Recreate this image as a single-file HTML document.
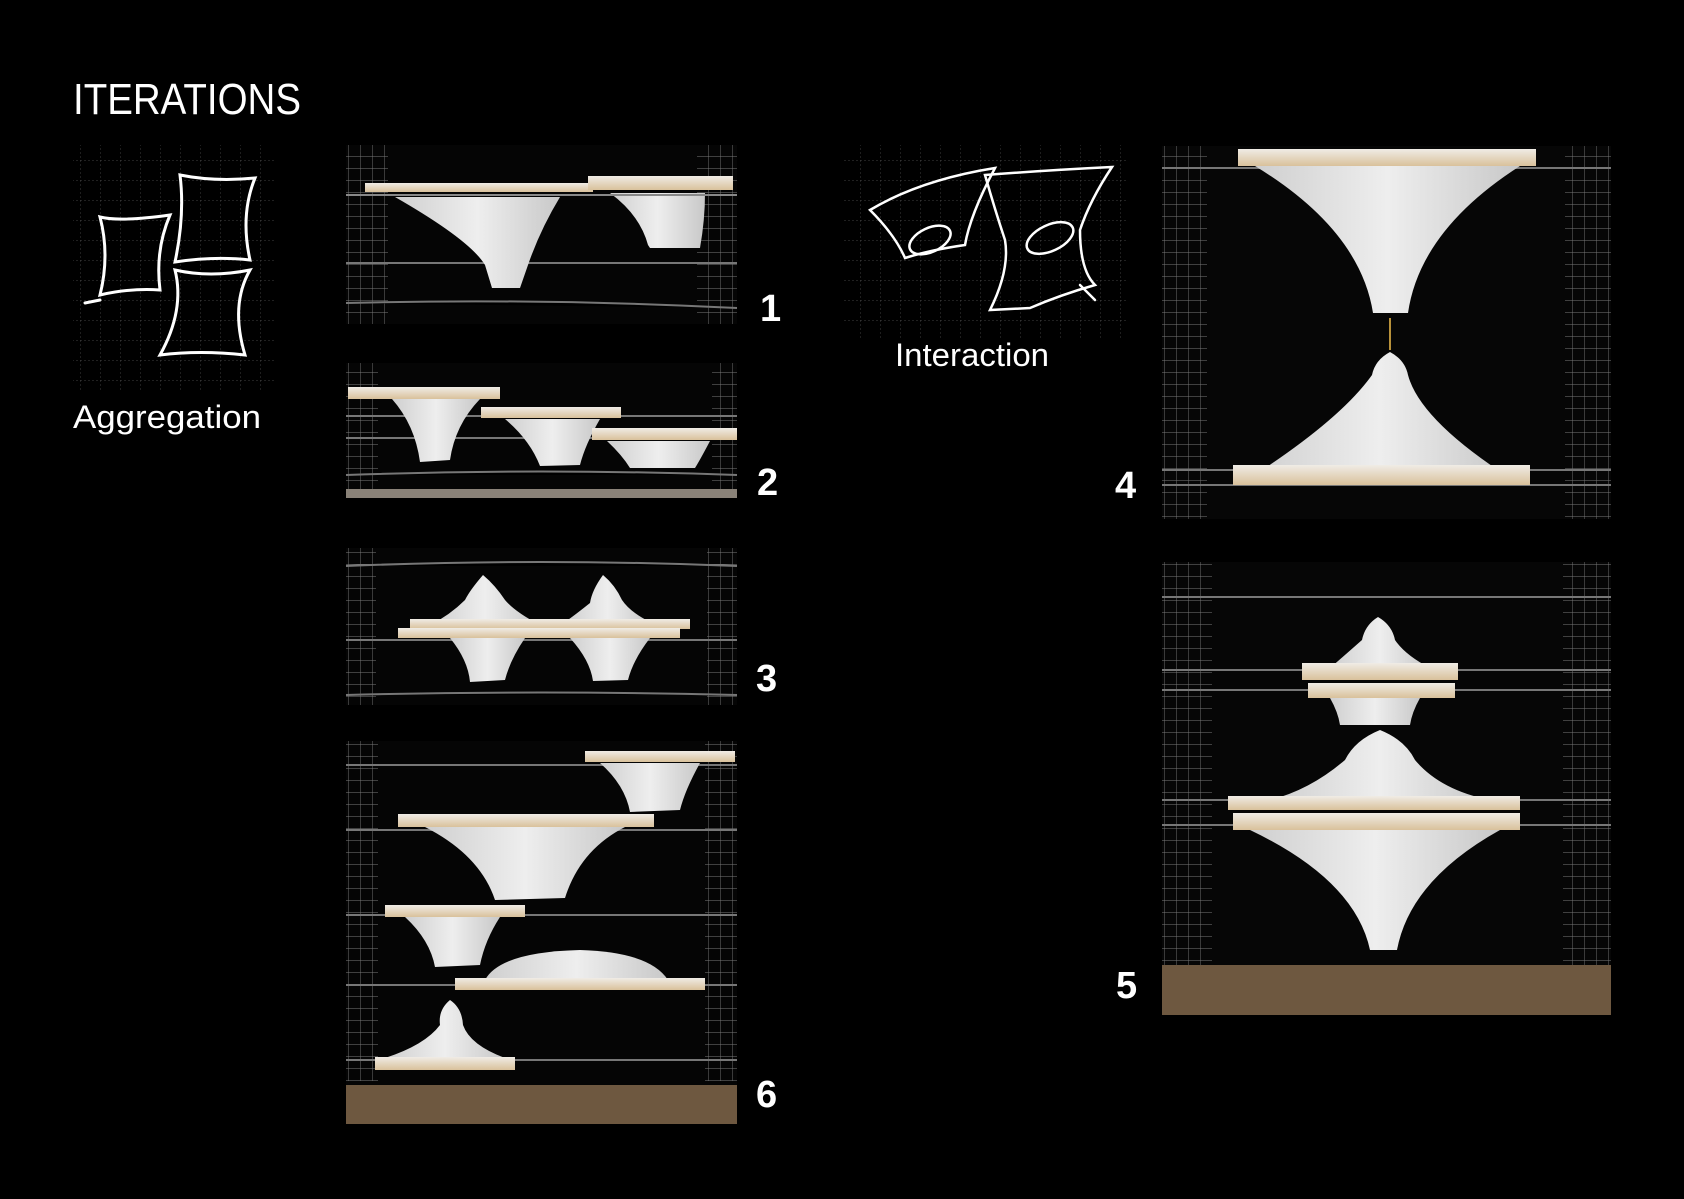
<!DOCTYPE html>
<html><head><meta charset="utf-8"><style>
html,body{margin:0;padding:0;background:#000;width:1684px;height:1199px;overflow:hidden}
svg{display:block}
text{font-family:"Liberation Sans",sans-serif;fill:#fff}
</style></head><body>
<svg width="1684" height="1199" viewBox="0 0 1684 1199" xmlns="http://www.w3.org/2000/svg">
<defs>
<pattern id="g" width="12" height="12" patternUnits="userSpaceOnUse">
<path d="M0 0H12M0 0V12" stroke="#c8c8c8" stroke-width="0.9" fill="none"/>
</pattern>
<pattern id="sg" width="20" height="20" patternUnits="userSpaceOnUse">
<path d="M0 0H20M0 0V20" stroke="#555" stroke-width="0.7" stroke-dasharray="2 2" fill="none"/>
</pattern>
<linearGradient id="w" x1="0" y1="0" x2="0" y2="1"><stop offset="0" stop-color="#f0ece6"/><stop offset="1" stop-color="#d9c19b"/></linearGradient>
<linearGradient id="c" x1="0" y1="0" x2="1" y2="0"><stop offset="0" stop-color="#cfcfcf"/><stop offset=".5" stop-color="#eeeeee"/><stop offset="1" stop-color="#c8c8c8"/></linearGradient>
</defs>

<text x="73" y="114" font-size="44" font-weight="300" textLength="228" lengthAdjust="spacingAndGlyphs">ITERATIONS</text>

<!-- aggregation sketch -->
<rect x="73" y="145" width="201" height="247" fill="url(#sg)"/>
<g stroke="#fff" stroke-width="3" fill="none" stroke-linecap="round">
<path d="M100 217 Q120 222 170 215 Q155 250 160 290 Q130 288 100 295 Q110 255 100 217Z"/>
<path d="M180 175 Q215 182 255 178 Q240 215 250 260 Q215 256 175 262 Q185 215 180 175Z"/>
<path d="M175 270 Q210 278 250 270 Q230 305 245 355 Q200 350 160 355 Q185 310 175 270Z"/>
<path d="M85 303 L100 300"/>
</g>
<text x="73" y="428" font-size="32" textLength="188" lengthAdjust="spacingAndGlyphs">Aggregation</text>

<!-- interaction sketch -->
<rect x="843" y="145" width="283" height="193" fill="url(#sg)"/>
<g stroke="#fff" stroke-width="2.5" fill="none" stroke-linecap="round">
<path d="M870 210 Q920 180 995 168 Q970 215 965 245 Q930 250 905 258 Q895 235 870 210Z"/>
<ellipse cx="930" cy="240" rx="22" ry="12" transform="rotate(-25 930 240)"/>
<path d="M985 175 Q1050 170 1112 167 Q1090 200 1080 230 Q1080 270 1095 285 Q1060 295 1030 308 L990 310 Q1010 270 1005 240 Q995 210 985 175Z"/>
<ellipse cx="1050" cy="238" rx="25" ry="13" transform="rotate(-25 1050 238)"/>
<path d="M1080 285 L1095 300"/>
</g>
<text x="895" y="366" font-size="32" textLength="154" lengthAdjust="spacingAndGlyphs">Interaction</text>

<!-- Photo 1 -->
<g>
<rect x="346" y="145" width="391" height="179" fill="#050505"/>
<rect x="346" y="145" width="42" height="179" fill="url(#g)" opacity=".6"/>
<rect x="697" y="145" width="40" height="179" fill="url(#g)" opacity=".6"/>
<path d="M346 263 H737 M346 303 Q540 298 737 308" stroke="#777" stroke-width="2"/>
<path d="M395 197 Q470 240 485 265 L492 288 L520 288 L528 265 Q540 230 560 197Z" fill="url(#c)"/>
<path d="M610 193 Q640 215 648 245 L650 248 L700 248 Q705 220 705 193Z" fill="url(#c)"/>
<rect x="365" y="183" width="228" height="9" fill="url(#w)"/>
<rect x="588" y="176" width="145" height="14" fill="url(#w)"/>
<path d="M346 195 H737" stroke="#888" stroke-width="2"/>
<text x="760" y="321" font-size="38" font-weight="bold">1</text>
</g>

<!-- Photo 2 -->
<g>
<rect x="346" y="363" width="391" height="135" fill="#050505"/>
<rect x="346" y="363" width="32" height="135" fill="url(#g)" opacity=".6"/>
<rect x="712" y="363" width="25" height="135" fill="url(#g)" opacity=".6"/>
<path d="M346 416 H737 M346 438 H737 M346 475 Q540 468 737 475" stroke="#777" stroke-width="2"/>
<path d="M392 399 L480 399 Q455 425 450 460 L420 462 Q415 425 392 399Z" fill="url(#c)"/>
<path d="M505 419 L600 419 Q585 445 580 465 L540 466 Q530 440 505 419Z" fill="url(#c)"/>
<path d="M607 441 L710 441 Q700 460 695 468 L630 468 Q622 455 607 441Z" fill="url(#c)"/>
<rect x="348" y="387" width="152" height="12" fill="url(#w)"/>
<rect x="481" y="407" width="140" height="11" fill="url(#w)"/>
<rect x="592" y="428" width="145" height="12" fill="url(#w)"/>
<rect x="346" y="489" width="391" height="9" fill="#8a8278"/>
<text x="757" y="495" font-size="38" font-weight="bold">2</text>
</g>

<!-- Photo 3 -->
<g>
<rect x="346" y="548" width="391" height="157" fill="#050505"/>
<rect x="346" y="548" width="30" height="157" fill="url(#g)" opacity=".6"/>
<rect x="707" y="548" width="30" height="157" fill="url(#g)" opacity=".6"/>
<path d="M346 566 Q540 558 737 566 M346 640 H737 M346 695 Q540 690 737 695" stroke="#777" stroke-width="2"/>
<path d="M483 575 Q470 590 465 600 Q450 615 430 625 L540 625 Q515 612 505 600 Q495 585 483 575Z" fill="url(#c)"/>
<path d="M603 575 Q592 590 590 603 Q575 615 565 622 L650 622 Q630 612 622 600 Q615 585 603 575Z" fill="url(#c)"/>
<path d="M450 638 L525 638 Q510 660 505 680 L470 682 Q468 660 450 638Z" fill="url(#c)"/>
<path d="M570 638 L650 638 Q633 660 628 680 L593 681 Q590 660 570 638Z" fill="url(#c)"/>
<rect x="410" y="619" width="280" height="10" fill="url(#w)"/>
<rect x="398" y="628" width="282" height="10" fill="url(#w)"/>
<text x="756" y="691" font-size="38" font-weight="bold">3</text>
</g>

<!-- Photo 6 -->
<g>
<rect x="346" y="741" width="391" height="383" fill="#050505"/>
<rect x="346" y="741" width="32" height="340" fill="url(#g)" opacity=".6"/>
<rect x="705" y="741" width="32" height="340" fill="url(#g)" opacity=".6"/>
<path d="M346 765 H737 M346 830 H737 M346 915 H737 M346 985 H737 M346 1060 H737" stroke="#777" stroke-width="2"/>
<path d="M600 763 L700 763 Q685 790 680 810 L630 812 Q625 785 600 763Z" fill="url(#c)"/>
<path d="M425 827 L625 827 Q580 850 565 898 L495 900 Q480 855 425 827Z" fill="url(#c)"/>
<path d="M405 917 L500 917 Q485 940 480 965 L435 967 Q430 940 405 917Z" fill="url(#c)"/>
<path d="M485 980 Q500 952 580 950 Q650 952 668 980Z" fill="url(#c)"/>
<path d="M450 1000 Q438 1010 440 1025 Q425 1045 385 1058 L505 1058 Q470 1045 463 1025 Q462 1008 450 1000Z" fill="url(#c)"/>
<rect x="585" y="751" width="150" height="11" fill="url(#w)"/>
<rect x="398" y="814" width="256" height="13" fill="url(#w)"/>
<rect x="385" y="905" width="140" height="12" fill="url(#w)"/>
<rect x="455" y="978" width="250" height="12" fill="url(#w)"/>
<rect x="375" y="1057" width="140" height="13" fill="url(#w)"/>
<rect x="346" y="1085" width="391" height="39" fill="#6e5840"/>
<text x="756" y="1107" font-size="38" font-weight="bold">6</text>
</g>

<!-- Photo 4 -->
<g>
<rect x="1162" y="146" width="449" height="373" fill="#060606"/>
<rect x="1162" y="146" width="45" height="373" fill="url(#g)" opacity=".6"/>
<rect x="1565" y="146" width="46" height="373" fill="url(#g)" opacity=".6"/>
<path d="M1162 168 H1611 M1162 485 H1611 M1162 470 H1611" stroke="#777" stroke-width="2"/>
<path d="M1255 166 L1520 166 Q1420 230 1408 313 L1373 313 Q1360 230 1255 166Z" fill="url(#c)"/>
<path d="M1390 352 Q1375 360 1372 375 Q1340 420 1250 478 L1510 478 Q1420 420 1408 375 Q1405 360 1390 352Z" fill="url(#c)"/>
<path d="M1390 318 V350" stroke="#b8913a" stroke-width="2"/>
<rect x="1238" y="149" width="298" height="17" fill="url(#w)"/>
<rect x="1233" y="465" width="297" height="20" fill="url(#w)"/>
<text x="1115" y="498" font-size="38" font-weight="bold">4</text>
</g>

<!-- Photo 5 -->
<g>
<rect x="1162" y="562" width="449" height="453" fill="#060606"/>
<rect x="1162" y="562" width="50" height="410" fill="url(#g)" opacity=".6"/>
<rect x="1563" y="562" width="48" height="410" fill="url(#g)" opacity=".6"/>
<path d="M1162 597 H1611 M1162 670 H1611 M1162 690 H1611 M1162 800 H1611 M1162 825 H1611" stroke="#777" stroke-width="2"/>
<path d="M1378 617 Q1365 625 1362 640 Q1345 655 1330 668 L1430 668 Q1405 655 1395 640 Q1392 625 1378 617Z" fill="url(#c)"/>
<path d="M1330 698 L1420 698 Q1412 712 1410 725 L1340 725 Q1338 712 1330 698Z" fill="url(#c)"/>
<path d="M1380 730 Q1355 740 1345 760 Q1310 790 1270 800 L1490 800 Q1440 790 1415 760 Q1405 740 1380 730Z" fill="url(#c)"/>
<path d="M1250 830 L1500 830 Q1410 880 1397 950 L1370 950 Q1355 880 1250 830Z" fill="url(#c)"/>
<rect x="1302" y="663" width="156" height="17" fill="url(#w)"/>
<rect x="1308" y="683" width="147" height="15" fill="url(#w)"/>
<rect x="1228" y="796" width="292" height="14" fill="url(#w)"/>
<rect x="1233" y="813" width="287" height="17" fill="url(#w)"/>
<rect x="1162" y="965" width="449" height="50" fill="#6e5840"/>
<text x="1116" y="998" font-size="38" font-weight="bold">5</text>
</g>
</svg>
</body></html>
